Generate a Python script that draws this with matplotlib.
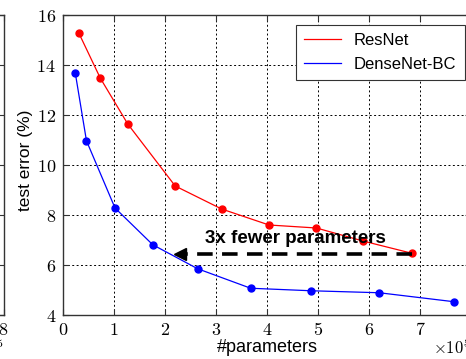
import matplotlib
matplotlib.use("Agg")
import matplotlib.pyplot as plt
from matplotlib.lines import Line2D
from matplotlib.ticker import FuncFormatter

plt.rcParams["mathtext.fontset"] = "cm"
plt.rcParams["font.family"] = ["Liberation Sans", "DejaVu Sans"]

# parameters (x 1e5) vs test error (%)
resnet_params = [0.31, 0.73, 1.27, 2.20, 3.11, 4.04, 4.97, 5.88, 6.84]
resnet_err = [15.28, 13.48, 11.64, 9.16, 8.24, 7.60, 7.48, 6.96, 6.47]
densenet_params = [0.24, 0.46, 1.02, 1.76, 2.64, 3.68, 4.86, 6.20, 7.67]
densenet_err = [13.69, 10.97, 8.28, 6.81, 5.85, 5.07, 4.97, 4.89, 4.53]

arrow_y = 6.45
arrow_start = 6.84
arrow_end = 2.16

xticks = [0, 1, 2, 3, 4, 5, 6, 7, 8]
yticks = [4, 6, 8, 10, 12, 14, 16]

fig = plt.figure(figsize=(4.66, 3.59), dpi=100)

AX_W = 408 / 466
AX_B = 1 - 315 / 359
AX_H = 300 / 359


def style_axes(ax):
    ax.set_xlim(0, 8)
    ax.set_ylim(4, 16)
    ax.set_xticks(xticks)
    ax.set_yticks(yticks)
    fmt = FuncFormatter(lambda v, p: r"$%d$" % v)
    ax.xaxis.set_major_formatter(fmt)
    ax.yaxis.set_major_formatter(fmt)
    ax.tick_params(direction="in", top=True, right=True, length=4,
                   width=0.8, labelsize=13, pad=5, color="#333333")
    ax.grid(True, color="k", linestyle=(0, (2, 2.5)), linewidth=0.7)
    ax.set_axisbelow(True)
    for s in ax.spines.values():
        s.set_color("#333333")
        s.set_linewidth(1.0)
    # x 10^5 multiplier at right end of the x axis
    ax.text(1.0, -0.075, r"$\times10^5$", transform=ax.transAxes,
            ha="right", va="top", fontsize=12)


# neighbouring panel, mostly outside the figure
ax0 = fig.add_axes([3.5 / 466 - AX_W, AX_B, AX_W, AX_H])
style_axes(ax0)
ax0.grid(False)
ax0.tick_params(labelleft=False)

ax = fig.add_axes([63 / 466, AX_B, AX_W, AX_H])
style_axes(ax)

ax.plot(resnet_params, resnet_err, "-o", color="#ff0000", lw=0.9,
        markersize=5)
ax.plot(densenet_params, densenet_err, "-o", color="#0000ff", lw=0.9,
        markersize=5)

ax.plot([arrow_start, arrow_end + 0.25], [arrow_y, arrow_y], color="k",
        lw=2.6, dashes=(4.3, 2.6))
ax.plot([arrow_end + 0.14], [arrow_y], marker="<", color="k", markersize=9)
ax.text(4.55, 7.05, "3x fewer parameters", ha="center", va="center",
        fontsize=13.5, fontweight="bold")

ax.set_xlabel("#parameters", fontsize=13, labelpad=0)
ax.set_ylabel("test error (%)", fontsize=12.5)
ax.yaxis.set_label_coords(-0.074, 0.517)

handles = [Line2D([], [], color="#ff0000", lw=0.9),
           Line2D([], [], color="#0000ff", lw=0.9)]
leg = ax.legend(handles, ["ResNet", "DenseNet-BC"], loc="upper right",
                bbox_to_anchor=(0.985, 0.967),
                fontsize=12, fancybox=False, framealpha=1,
                edgecolor="#333333", handlelength=2.2, borderpad=0.5,
                labelspacing=0.5, borderaxespad=0)
leg.get_frame().set_linewidth(0.8)

fig.savefig("out.png", dpi=100)
